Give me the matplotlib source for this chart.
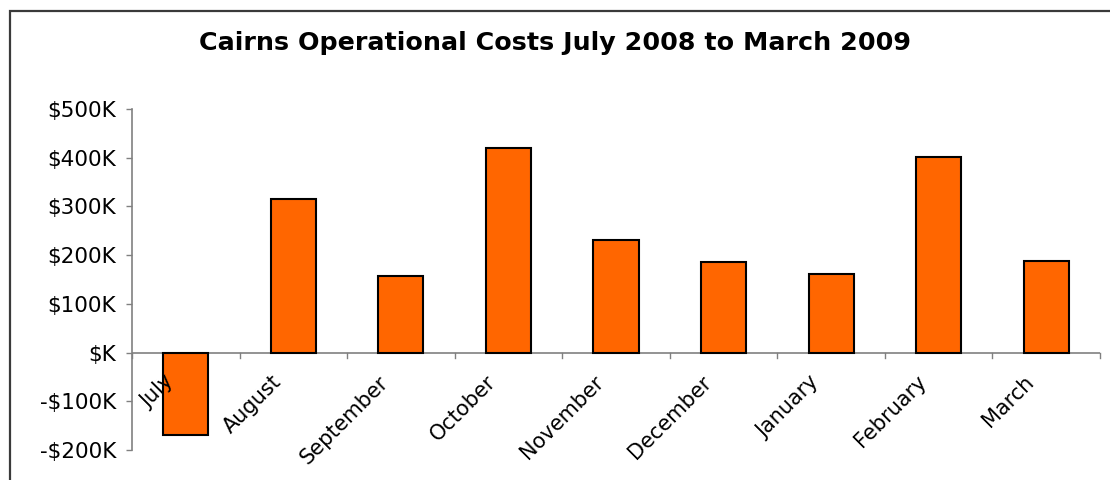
import numpy as np
import matplotlib as mpl
mpl.use('Agg')
import matplotlib.pyplot as plt
from matplotlib.ticker import FuncFormatter
from matplotlib.patches import Rectangle
import matplotlib.transforms as mtransforms

months = ['July', 'August', 'September', 'October', 'November',
          'December', 'January', 'February', 'March']
costs_k = [-170, 315, 158, 420, 231, 185, 162, 401, 188]
yticks_k = [-200, -100, 0, 100, 200, 300, 400, 500]

plt.rcParams['font.family'] = 'DejaVu Sans'

fig = plt.figure(figsize=(11.1, 4.8), dpi=100)
ax = fig.add_axes([132/1110, 1 - 450/480, (1100 - 132)/1110, (450 - 109)/480])

# chart frame (left and top edges visible)
fig.patches.append(Rectangle((10/1110, -0.1), 1.2, 1 - 11/480 + 0.1,
                             transform=fig.transFigure, fill=False,
                             edgecolor='#3a3a3a', linewidth=1.6))

x = np.arange(len(months))
ax.bar(x, costs_k, width=0.42, color='#FF6600', edgecolor='black',
       linewidth=1.5, zorder=3)

ax.set_xlim(-0.5, len(months) - 0.5)
ax.set_ylim(-200, 500)
ax.set_yticks(yticks_k)

def kfmt(v, pos):
    v = int(round(v))
    if v == 0:
        return '$K'
    if v < 0:
        return '-$%dK' % (-v)
    return '$%dK' % v

ax.yaxis.set_major_formatter(FuncFormatter(kfmt))

for s in ['top', 'right', 'bottom']:
    ax.spines[s].set_visible(False)
ax.spines['left'].set_color('#808080')
ax.spines['left'].set_linewidth(1.2)
ax.axhline(0, color='#808080', linewidth=1.2, zorder=2)

ax.tick_params(axis='y', direction='out', length=4.5, width=1.0,
               color='#808080', pad=7, labelsize=15.5)

# month labels hang below the zero line, drawn over the bars
ax.set_xticks(x)
ax.set_xticklabels(months, rotation=45, ha='right', va='top',
                   rotation_mode='anchor', fontsize=15)
ax.tick_params(axis='x', which='major', length=0, pad=0)
ax.xaxis.set_zorder(5)
offset = mtransforms.ScaledTranslation(-0.226, -0.193, fig.dpi_scale_trans)
for i, lbl in enumerate(ax.get_xticklabels()):
    lbl.set_transform(ax.transData + offset)
    lbl.set_position((i, 0))

# category boundary ticks on the zero line
for b in np.arange(len(months) + 1) - 0.5:
    ax.plot([b, b], [0, -12], color='#808080', linewidth=1.0,
            clip_on=False, zorder=2)

fig.text(0.5, 1 - 43/480, 'Cairns Operational Costs July 2008 to March 2009',
         ha='center', va='center', fontsize=18.3, fontweight='bold')

fig.savefig('out.png', dpi=100)
